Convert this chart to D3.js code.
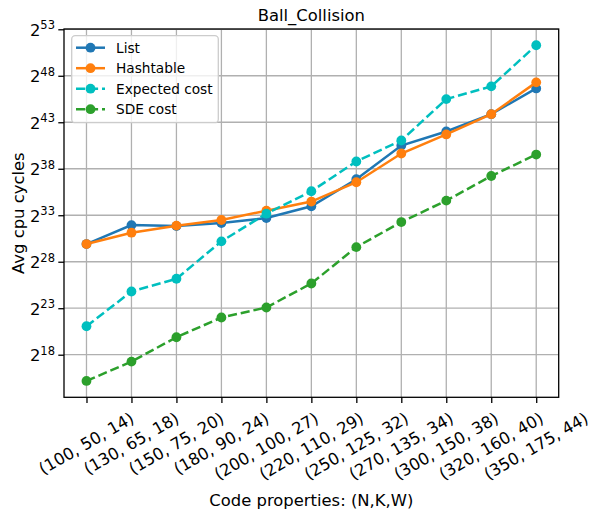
<!DOCTYPE html>
<html>
<head>
<meta charset="utf-8">
<script src="https://cdn.jsdelivr.net/npm/d3@7"></script>
<style>
  body { margin: 0; background: #fff; }
  svg { font-family: "DejaVu Sans", sans-serif; }
</style>
</head>
<body>
<svg id="chart"></svg>
<script>
// chart data (values are log2 of avg cpu cycles)
let categories = ['(100, 50, 14)', '(130, 65, 18)', '(150, 75, 20)', '(180, 90, 24)',
                  '(200, 100, 27)', '(220, 110, 29)', '(250, 125, 32)', '(270, 135, 34)',
                  '(300, 150, 38)', '(320, 160, 40)', '(350, 175, 44)']
let listLog = [29.9, 31.94, 31.84, 32.16, 32.7, 33.96, 36.87, 40.5, 42.01, 43.87, 46.64]
let hashLog = [29.9, 31.12, 31.88, 32.49, 33.49, 34.47, 36.55, 39.64, 41.69, 43.87, 47.29]
let expectedLog = [21.06, 24.8, 26.17, 30.19, 33.17, 35.58, 38.78, 41.04, 45.49, 46.86, 51.28]
let sdeLog = [15.18, 17.26, 19.88, 22.0, 23.08, 25.66, 29.57, 32.27, 34.57, 37.22, 39.53]
let yTickExps = [18, 23, 28, 33, 38, 43, 48, 53]

let series = [
  { name: 'List', values: listLog, color: '#1f77b4', dashed: false },
  { name: 'Hashtable', values: hashLog, color: '#ff7f0e', dashed: false },
  { name: 'Expected cost', values: expectedLog, color: '#00bfbf', dashed: true },
  { name: 'SDE cost', values: sdeLog, color: '#2ca02c', dashed: true }
]

//Dimensions
let width = 593
let height = 514
let axLeft = 64, axRight = 558.7, axTop = 29, axBottom = 397.3
let dash = '9.1,3.9'

let svg = d3.select('#chart').attr('width', width).attr('height', height)

let xScale = d3.scalePoint()
               .domain(categories)
               .range([axLeft, axRight])
               .padding(0.5)

let yScale = d3.scaleLog()
               .base(2)
               .domain([Math.pow(2, 13.42), Math.pow(2, 53.03)])
               .range([axBottom, axTop])

// grid
let grid = svg.append('g')
grid.selectAll('.gx')
    .data(categories)
    .enter()
    .append('line')
    .attr('x1', d => xScale(d)).attr('x2', d => xScale(d))
    .attr('y1', axTop).attr('y2', axBottom)
    .attr('stroke', '#b0b0b0').attr('stroke-width', 1.3)
grid.selectAll('.gy')
    .data(yTickExps)
    .enter()
    .append('line')
    .attr('x1', axLeft).attr('x2', axRight)
    .attr('y1', d => yScale(Math.pow(2, d))).attr('y2', d => yScale(Math.pow(2, d)))
    .attr('stroke', '#b0b0b0').attr('stroke-width', 1.3)

// series lines + markers
let line = d3.line()
             .x((d, i) => xScale(categories[i]))
             .y(d => yScale(Math.pow(2, d)))

series.forEach(s => {
  svg.append('path')
     .datum(s.values)
     .attr('d', line)
     .attr('fill', 'none')
     .attr('stroke', s.color)
     .attr('stroke-width', 2.5)
     .attr('stroke-dasharray', s.dashed ? dash : null)
  svg.append('g')
     .selectAll('circle')
     .data(s.values)
     .enter()
     .append('circle')
     .attr('cx', (d, i) => xScale(categories[i]))
     .attr('cy', d => yScale(Math.pow(2, d)))
     .attr('r', 4.9)
     .attr('fill', s.color)
})

// frame
svg.append('rect')
   .attr('x', axLeft).attr('y', axTop)
   .attr('width', axRight - axLeft).attr('height', axBottom - axTop)
   .attr('fill', 'none').attr('stroke', '#000').attr('stroke-width', 1.3)

// x axis
let xAxis = d3.axisBottom(xScale).tickSize(5.7).tickFormat('')
let xg = svg.append('g')
            .attr('transform', `translate(0,${axBottom})`)
            .call(xAxis)
xg.select('.domain').remove()
xg.selectAll('.tick line').attr('stroke', '#000').attr('stroke-width', 1.3)

let tickTop = axBottom + 5.7 + 5.7
let xLabels = svg.append('g')
categories.forEach(c => {
  let t = xLabels.append('text')
                 .attr('text-anchor', 'middle')
                 .attr('dominant-baseline', 'central')
                 .style('font-size', '16.4px')
                 .attr('fill', '#000')
                 .text(c)
  let w = t.node().getComputedTextLength()
  let h = 19
  let yc = tickTop + (w * 0.5 + h * 0.866) / 2
  t.attr('transform', `translate(${xScale(c)},${yc}) rotate(-30)`)
})

// y axis
let yAxis = d3.axisLeft(yScale)
              .tickValues(yTickExps.map(e => Math.pow(2, e)))
              .tickSize(5.7)
              .tickFormat('')
let yg = svg.append('g')
            .attr('transform', `translate(${axLeft},0)`)
            .call(yAxis)
yg.select('.domain').remove()
yg.selectAll('.tick line').attr('stroke', '#000').attr('stroke-width', 1.3)

yTickExps.forEach(e => {
  let t = svg.append('text')
             .attr('x', 55)
             .attr('y', yScale(Math.pow(2, e)) + 6.5)
             .attr('text-anchor', 'end')
             .style('font-size', '16.4px')
             .attr('fill', '#000')
  t.append('tspan').text('2')
  t.append('tspan').attr('dy', -6.5).style('font-size', '11.5px').text(e)
})

// titles
svg.append('text')
   .attr('x', (axLeft + axRight) / 2)
   .attr('y', 21)
   .attr('text-anchor', 'middle')
   .style('font-size', '16.4px')
   .text('Ball_Collision')

svg.append('text')
   .attr('x', (axLeft + axRight) / 2)
   .attr('y', 505.5)
   .attr('text-anchor', 'middle')
   .style('font-size', '16.4px')
   .text('Code properties: (N,K,W)')

svg.append('text')
   .attr('transform', `translate(24,${(axTop + axBottom) / 2}) rotate(-90)`)
   .attr('text-anchor', 'middle')
   .style('font-size', '16.4px')
   .text('Avg cpu cycles')

// legend
let legend = svg.append('g').attr('id', 'legend')
legend.append('rect')
      .attr('x', 71.7).attr('y', 35.7)
      .attr('width', 146.6).attr('height', 87)
      .attr('rx', 3.5)
      .attr('fill', '#fff').attr('fill-opacity', 0.8)
      .attr('stroke', '#cccccc').attr('stroke-width', 1.3)

series.forEach((s, i) => {
  let cy = 47.7 + i * 20.5
  legend.append('line')
        .attr('x1', 76).attr('x2', 105)
        .attr('y1', cy).attr('y2', cy)
        .attr('stroke', s.color).attr('stroke-width', 2.5)
        .attr('stroke-dasharray', s.dashed ? dash : null)
  legend.append('circle')
        .attr('cx', 90.5).attr('cy', cy).attr('r', 4.9)
        .attr('fill', s.color)
  legend.append('text')
        .attr('x', 116).attr('y', cy + 5)
        .style('font-size', '13.7px')
        .text(s.name)
})
</script>
</body>
</html>
